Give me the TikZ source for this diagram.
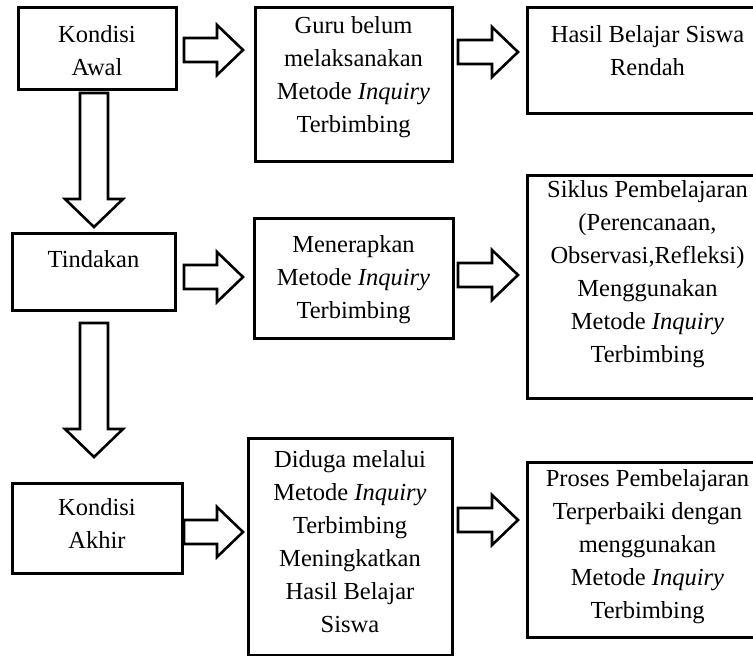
\documentclass[tikz,border=0pt]{standalone}
\usepackage{fontspec}
\setmainfont{Liberation Serif}
\usepackage{tikz}
\usetikzlibrary{calc,positioning}
\newcommand\boxfont{\fontsize{24.5}{33}\selectfont}

\tikzset{
  box/.style={draw, line width=3pt, rectangle, outer sep=0pt},
  txt/.style={align=center, inner sep=0pt, anchor=north, font=\boxfont},
  % hollow block arrow, pointing right
  harrow/.style={line width=2.6pt, line join=miter, to path={
      ($(\tikztostart)+(0,-12)$)
      -- ($(\tikztotarget |- \tikztostart)+(-26,-12)$)
      -- ($(\tikztotarget |- \tikztostart)+(-26,-25)$)
      -- (\tikztotarget |- \tikztostart)
      -- ($(\tikztotarget |- \tikztostart)+(-26,25)$)
      -- ($(\tikztotarget |- \tikztostart)+(-26,12)$)
      -- ($(\tikztostart)+(0,12)$) -- cycle}},
  % hollow block arrow, pointing down
  varrow/.style={line width=2.6pt, line join=miter, to path={
      ($(\tikztostart)+(-14,0)$)
      -- ($(\tikztostart |- \tikztotarget)+(-14,-28)$)
      -- ($(\tikztostart |- \tikztotarget)+(-29,-28)$)
      -- (\tikztostart |- \tikztotarget)
      -- ($(\tikztostart |- \tikztotarget)+(29,-28)$)
      -- ($(\tikztostart |- \tikztotarget)+(14,-28)$)
      -- ($(\tikztostart)+(14,0)$) -- cycle}},
}

\begin{document}
\begin{tikzpicture}[x=1pt, y=-1pt]
  \useasboundingbox (0,0) rectangle (753,656);
  \fill[white] (0,0) rectangle (753,656);
  \clip (0,0) rectangle (753,656);

  % boxes
  \node[box, minimum width=158pt, minimum height=82pt]  (awal)     at (97,48) {};
  \node[box, minimum width=197pt, minimum height=154pt] (guru)     at (353.5,84) {};
  \node[box, minimum width=241pt, minimum height=106pt] (hasil)    at (647.5,60) {};
  \node[box, minimum width=163pt, minimum height=77pt]  (tindakan) at (93.5,271.5) {};
  \node[box, minimum width=199pt, minimum height=120pt] (terapkan) at (353.5,278) {};
  \node[box, minimum width=241pt, minimum height=223pt] (siklus)   at (647.5,286.5) {};
  \node[box, minimum width=170pt, minimum height=90pt]  (akhir)    at (97,528) {};
  \node[box, minimum width=204pt, minimum height=217pt] (duga)     at (350,546.5) {};
  \node[box, minimum width=241pt, minimum height=175pt] (proses)   at (647.5,549.5) {};

  % texts
  \node[txt, below=18pt of awal.north]     (awalT)     {Kondisi\\Awal};
  \node[txt, below=9pt of guru.north]      (guruT)     {Guru belum\\melaksanakan\\Metode \textit{Inquiry}\\Terbimbing};
  \node[txt, below=18pt of hasil.north]    (hasilT)    {Hasil Belajar Siswa\\Rendah};
  \node[txt, below=17pt of tindakan.north] (tindakanT) {Tindakan};
  \node[txt, below=17pt of terapkan.north] (terapkanT) {Menerapkan\\Metode \textit{Inquiry}\\Terbimbing};
  \node[txt, below=5pt of siklus.north]    (siklusT)   {Siklus Pembelajaran\\(Perencanaan,\\Observasi,Refleksi)\\Menggunakan\\Metode \textit{Inquiry}\\Terbimbing};
  \node[txt, below=15pt of akhir.north]    (akhirT)    {Kondisi\\Akhir};
  \node[txt, below=12pt of duga.north]     (dugaT)     {Diduga melalui\\Metode \textit{Inquiry}\\Terbimbing\\Meningkatkan\\Hasil Belajar\\Siswa};
  \node[txt, below=7pt of proses.north]    (prosesT)   {Proses Pembelajaran\\Terperbaiki dengan\\menggunakan\\Metode \textit{Inquiry}\\Terbimbing};

  % arrows
  \draw[harrow] ([shift={(8,2)}]awal.east) to ([xshift=-12pt]guru.west);
  \draw[harrow] ([shift={(6,-32)}]guru.east) to ([xshift=-9pt]hasil.west);
  \draw[harrow] ([shift={(9,5.5)}]tindakan.east) to ([xshift=-11pt]terapkan.west);
  \draw[harrow] ([shift={(5,-3)}]terapkan.east) to ([xshift=-9pt]siklus.west);
  \draw[harrow] ([shift={(2,4)}]akhir.east) to ([xshift=-5pt]duga.west);
  \draw[harrow] ([shift={(6,-26.5)}]duga.east) to ([xshift=-9pt]proses.west);
  \draw[varrow] ([shift={(-3,4)}]awal.south) to ([yshift=6pt]tindakan.north);
  \draw[varrow] ([shift={(0.5,13)}]tindakan.south) to ([yshift=26pt]akhir.north);
\end{tikzpicture}
\end{document}
